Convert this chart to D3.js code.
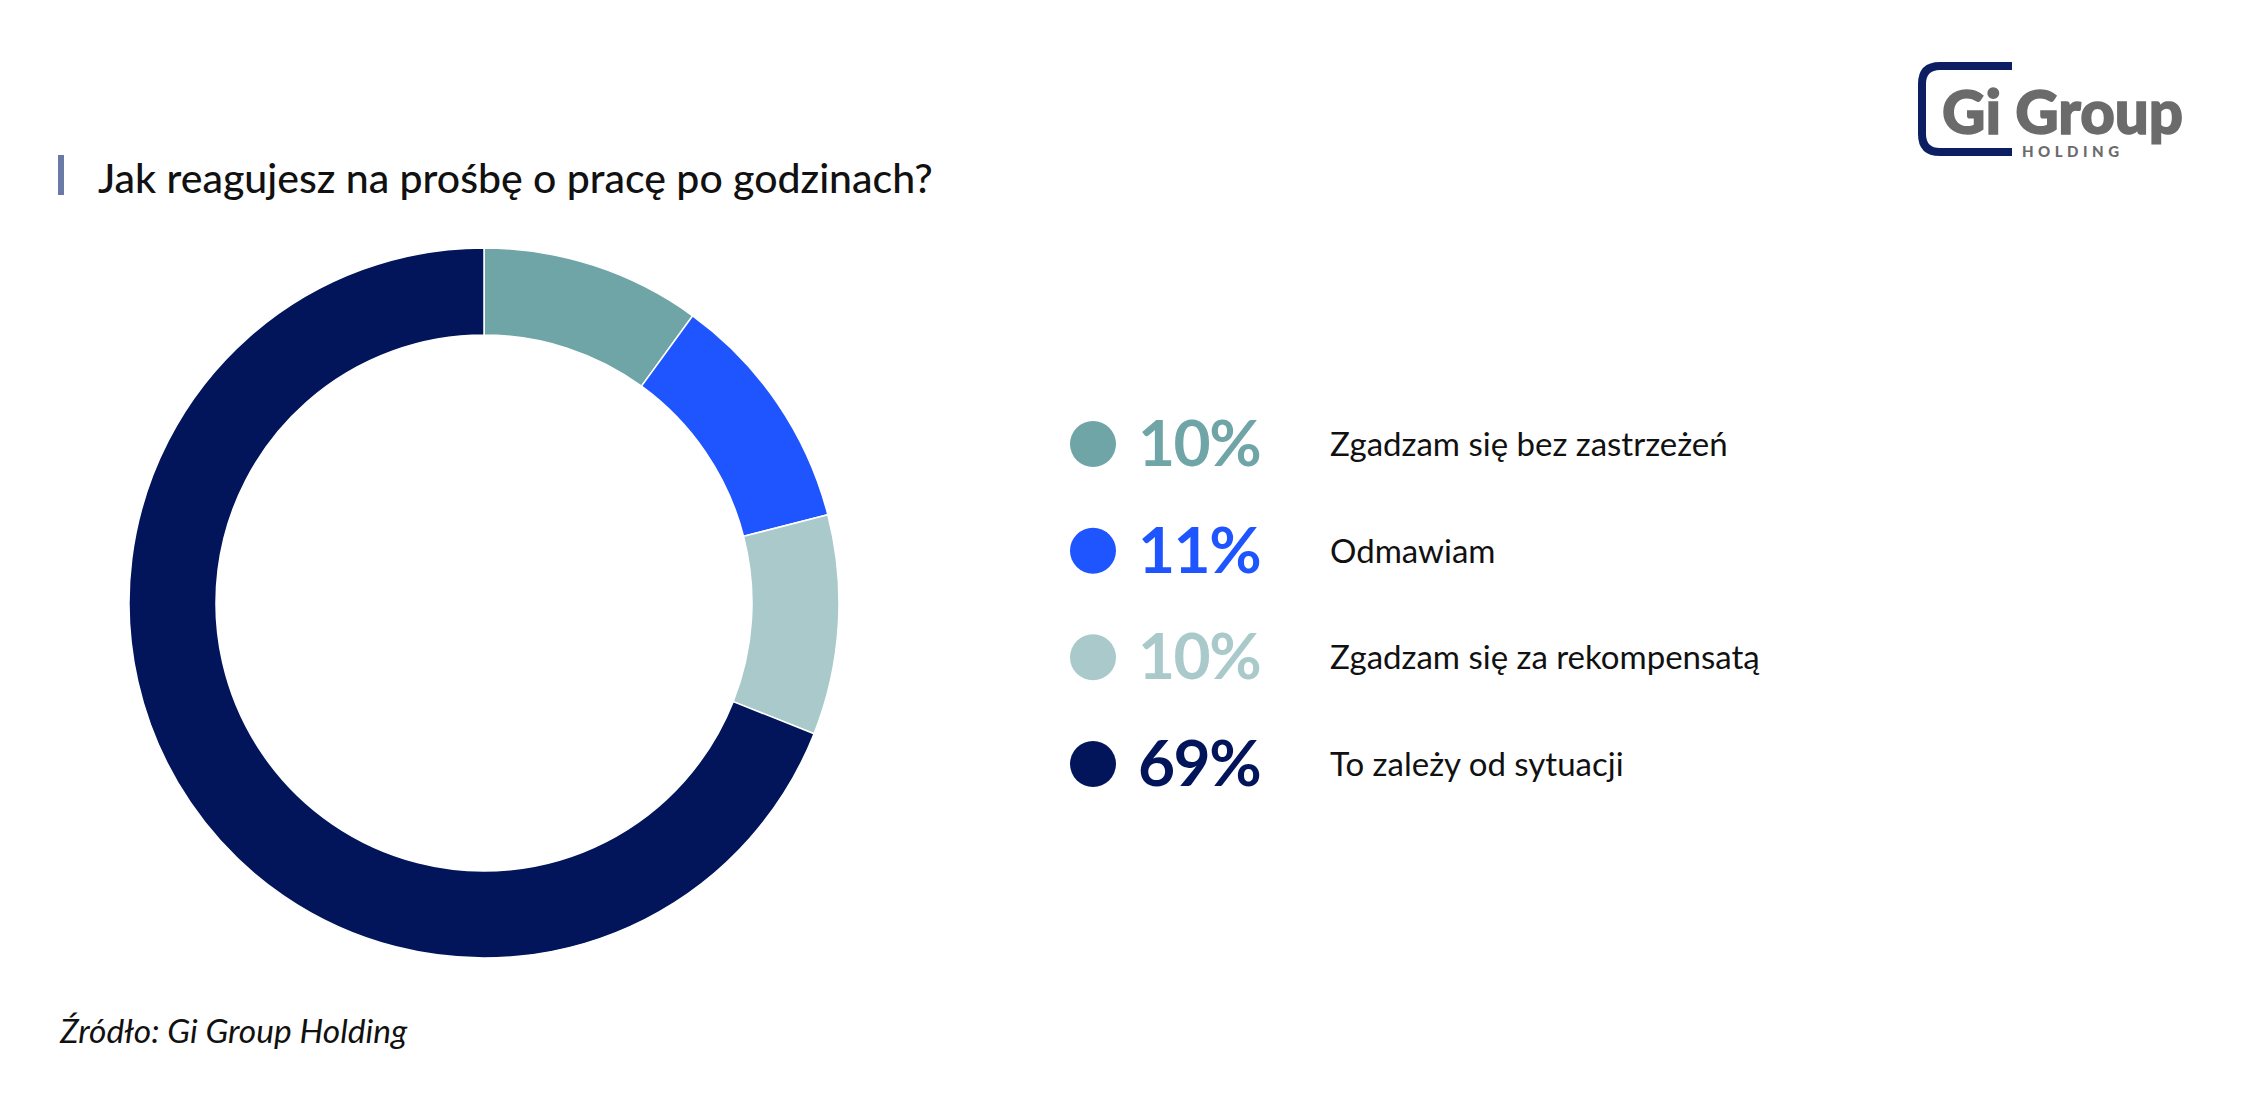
<!DOCTYPE html>
<html><head><meta charset="utf-8">
<script src="https://cdn.jsdelivr.net/npm/d3@7"></script>
<style>body{margin:0;background:#fff}svg{display:block;font-family:Lato,sans-serif}</style>
</head><body><svg id="c" width="2251" height="1107"></svg>
<script>
const categories=["Zgadzam się bez zastrzeżeń","Odmawiam","Zgadzam się za rekompensatą","To zależy od sytuacji"];
const values=[10,11,10,69];
const labels=["10%","11%","10%","69%"];
const colors=["#6fa5a7","#1f55ff","#a9c9cb","#02155a"];
const svg=d3.select("#c");
svg.append("rect").attr("x",58).attr("y",155).attr("width",6).attr("height",40).attr("fill","#6a7aa6");
svg.append("text").attr("x",98).attr("y",193).attr("font-size",41).attr("font-weight",500).attr("fill","#111").text("Jak reagujesz na prośbę o pracę po godzinach?");
const pie=d3.pie().sort(null).value(d=>d)(values);
const arc=d3.arc().innerRadius(268).outerRadius(355);
const g=svg.append("g").attr("transform","translate(484,603)");
g.selectAll("path").data(pie).join("path").attr("d",arc).attr("fill",(d,i)=>colors[i]).attr("stroke","#fff").attr("stroke-width",1.5);
const y=d3.scalePoint().domain(categories).range([444,764]);
const lg=svg.append("g");
categories.forEach((c,i)=>{
  lg.append("circle").attr("cx",1093).attr("cy",y(c)).attr("r",23).attr("fill",colors[i]);
  lg.append("text").attr("x",1138).attr("y",y(c)+22).attr("font-size",64).attr("font-weight",700).attr("fill",colors[i]).attr("letter-spacing",-1.5).text(labels[i]);
  lg.append("text").attr("x",1330).attr("y",y(c)+12).attr("font-size",33).attr("fill","#111").text(c);
});
svg.append("text").attr("x",60).attr("y",1043).attr("font-size",33.5).attr("font-style","italic").attr("fill","#111").text("Źródło: Gi Group Holding");
const L=svg.append("g");
L.append("path").attr("d","M2012,66 H1940 Q1922,66 1922,84 V134 Q1922,152 1940,152 H2012").attr("fill","none").attr("stroke","#0d1f63").attr("stroke-width",8);
L.append("text").attr("x",1942).attr("y",134).attr("font-size",60).attr("font-weight",900).attr("fill","#6b6b6b").attr("stroke","#6b6b6b").attr("stroke-width",1.5).attr("font-family","Lato").text("Gi Group");
L.append("text").attr("x",2022).attr("y",157).attr("font-size",15).attr("font-weight",900).attr("fill","#6b6b6b").attr("letter-spacing",4.5).text("HOLDING");
</script></body></html>
